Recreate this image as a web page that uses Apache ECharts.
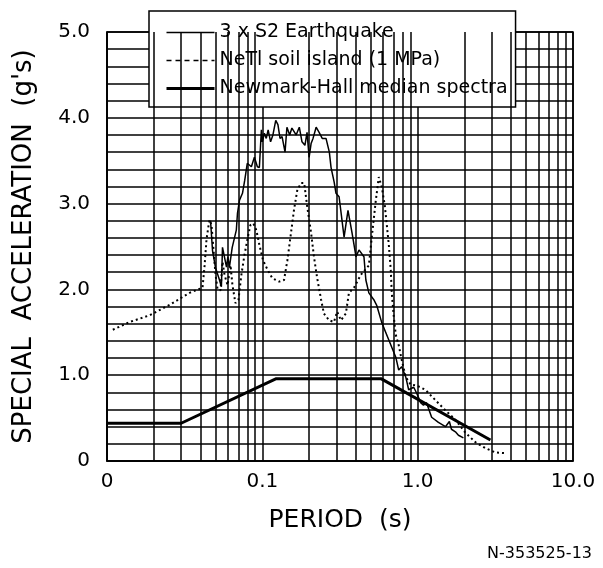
<!DOCTYPE html>
<html>
<head>
<meta charset="utf-8">
<script src="https://cdn.jsdelivr.net/npm/echarts@6/dist/echarts.min.js"></script>
<style>
html,body{margin:0;padding:0;background:#fff;}
#chart{width:603px;height:568px;}
</style>
</head>
<body>
<div id="chart"></div>
<script>
// ---- data (period in s, spectral acceleration in g) ----
const eqPeriod = [0.0464,0.0478,0.050,0.053,0.0545,0.0554,0.0588,0.060,0.0614,0.064,0.068,0.0692,0.0713,0.0745,0.077,0.080,0.085,0.0889,0.0929,0.0957,0.0986,0.100,0.103,0.106,0.109,0.113,0.117,0.122,0.126,0.130,0.134,0.140,0.144,0.150,0.155,0.165,0.173,0.180,0.188,0.194,0.200,0.206,0.212,0.222,0.232,0.243,0.257,0.270,0.277,0.290,0.298,0.312,0.336,0.356,0.378,0.401,0.419,0.451,0.464,0.485,0.522,0.546,0.588,0.652,0.723,0.755,0.789,0.838,0.875,0.943,0.986,1.045,1.09,1.14,1.23,1.36,1.51,1.60,1.65,1.75,1.83,1.97];
const eqAccel  = [2.80,2.45,2.25,2.11,2.03,2.49,2.26,2.38,2.26,2.49,2.69,2.89,3.04,3.12,3.27,3.47,3.43,3.54,3.43,3.42,3.86,3.72,3.82,3.76,3.86,3.72,3.80,3.97,3.92,3.76,3.78,3.60,3.89,3.80,3.88,3.80,3.89,3.72,3.68,3.83,3.54,3.70,3.76,3.89,3.83,3.76,3.76,3.60,3.42,3.25,3.12,3.08,2.61,2.92,2.66,2.38,2.46,2.38,2.11,1.96,1.88,1.81,1.61,1.41,1.21,1.06,1.10,0.98,0.83,0.86,0.79,0.68,0.65,0.68,0.51,0.45,0.40,0.46,0.37,0.34,0.30,0.27];

const soilPeriod = [0.0109,0.0140,0.0189,0.0253,0.0340,0.0412,0.0425,0.0437,0.0451,0.0457,0.0471,0.0485,0.0500,0.0515,0.0538,0.0554,0.0571,0.0597,0.0624,0.0642,0.0671,0.0702,0.0733,0.0767,0.0801,0.0838,0.0875,0.0915,0.0957,0.101,0.108,0.116,0.1285,0.138,0.145,0.153,0.160,0.168,0.178,0.186,0.194,0.206,0.215,0.225,0.239,0.249,0.269,0.289,0.303,0.321,0.345,0.361,0.389,0.431,0.485,0.515,0.538,0.562,0.588,0.614,0.633,0.652,0.671,0.681,0.702,0.723,0.755,0.789,0.838,0.902,0.986,1.12,1.30,1.51,1.75,2.03,2.35,2.73,3.16,3.72];
const soilAccel  = [1.53,1.62,1.70,1.82,1.96,2.02,2.28,2.58,2.75,2.81,2.75,2.46,2.17,2.00,1.99,2.32,2.17,2.05,2.28,2.05,1.84,1.88,2.17,2.40,2.58,2.75,2.77,2.69,2.52,2.34,2.23,2.13,2.09,2.11,2.34,2.66,2.93,3.16,3.24,3.24,2.98,2.66,2.38,2.14,1.88,1.72,1.64,1.62,1.74,1.64,1.72,1.96,2.02,2.17,2.28,2.73,3.04,3.31,3.19,2.98,2.75,2.52,2.23,1.96,1.68,1.47,1.35,1.18,0.98,0.89,0.88,0.83,0.71,0.59,0.48,0.33,0.22,0.15,0.10,0.09];

const nhPeriod = [0.01,0.030,0.123,0.58,2.94];
const nhAccel  = [0.44,0.44,0.96,0.96,0.245];

const seriesNames = ['3 x S2 Earthquake','NeTl soil island (1 MPa)','Newmark-Hall median spectra'];
const xTickLabels = {'-2':'0','-1':'0.1','0':'1.0','1':'10.0'};
const minorGridPeriods = [0.02,0.03,0.04,0.05,0.06,0.07,0.08,0.09,0.2,0.3,0.4,0.5,0.6,0.7,0.8,0.9,2,3,4,5,6,7,8,9];
const xTitle = 'PERIOD  (s)';
const yTitle = "SPECIAL  ACCELERATION  (g's)";
const footnote = 'N-353525-13';

const zip = (a,b) => a.map((v,i)=>[v,b[i]]);
const FONT = 'DejaVu Sans';

const chart = echarts.init(document.getElementById('chart'), null, {renderer:'canvas'});
chart.setOption({
  animation:false,
  backgroundColor:'#fff',
  textStyle:{fontFamily:FONT,color:'#000'},
  grid:{left:107,top:32,right:30,bottom:107,show:true,borderColor:'#000',borderWidth:1.5,backgroundColor:'transparent'},
  xAxis:{
    type:'log', logBase:10, min:0.01, max:10,
    name:xTitle, nameLocation:'middle', nameGap:47,
    nameTextStyle:{fontFamily:FONT,fontSize:25,color:'#000'},
    axisLine:{show:true,lineStyle:{color:'#000',width:1.5}},
    axisTick:{show:false},
    axisLabel:{fontFamily:FONT,fontSize:20,color:'#000',margin:11,showMinLabel:true,showMaxLabel:true,
      formatter:v=>{const e=Math.round(Math.log10(v)); return xTickLabels[String(e)]!==undefined?xTickLabels[String(e)]:'';}},
    splitLine:{show:true,lineStyle:{color:'#000',width:1.5}}
  },
  yAxis:{
    type:'value', min:0, max:5, interval:0.2,
    name:yTitle, nameLocation:'middle', nameGap:70, nameRotate:90,
    nameTextStyle:{fontFamily:FONT,fontSize:26,color:'#000'},
    axisLine:{show:true,lineStyle:{color:'#000',width:1.5}},
    axisTick:{show:false},
    axisLabel:{fontFamily:FONT,fontSize:20,color:'#000',margin:17,
      formatter:v=>{const r=Math.round(v*10)/10; if(Math.abs(r-Math.round(r))>1e-6) return ''; return r===0?'0':r.toFixed(1);}},
    splitLine:{show:true,lineStyle:{color:'#000',width:1.5}}
  },
  legend:{
    orient:'vertical', left:149, top:11,
    padding:[12,8,9,16], itemGap:9, itemWidth:48, itemHeight:14,
    backgroundColor:'#fff', borderColor:'#000', borderWidth:1.5, borderRadius:0,
    itemStyle:{opacity:0, borderWidth:0},
    textStyle:{fontFamily:FONT,fontSize:19,color:'#000'},
    data:[
      {name:seriesNames[0], lineStyle:{type:'solid',width:1.5}},
      {name:seriesNames[1], lineStyle:{type:[5,4],width:1.5}},
      {name:seriesNames[2], lineStyle:{type:'solid',width:3}}
    ]
  },
  graphic:[{type:'text',right:11,top:546,style:{text:footnote,fontFamily:FONT,fontSize:16,fill:'#000'}}],
  series:[
    {name:'grid', type:'line', data:[], silent:true, z:1, symbol:'none',
      markLine:{silent:true, symbol:['none','none'], label:{show:false},
        lineStyle:{type:'solid',color:'#000',width:1.5},
        data:minorGridPeriods.map(p=>({xAxis:p}))}},
    {name:seriesNames[0], type:'line', data:zip(eqPeriod,eqAccel), symbol:'none', z:3,
      lineStyle:{color:'#000',width:1.5}, itemStyle:{color:'#000'}},
    {name:seriesNames[1], type:'line', data:zip(soilPeriod,soilAccel), symbol:'none', z:3,
      lineStyle:{color:'#000',width:2,type:[2,3]}, itemStyle:{color:'#000'}},
    {name:seriesNames[2], type:'line', data:zip(nhPeriod,nhAccel), symbol:'none', z:4,
      lineStyle:{color:'#000',width:3}, itemStyle:{color:'#000'}}
  ]
});
</script>
</body>
</html>
